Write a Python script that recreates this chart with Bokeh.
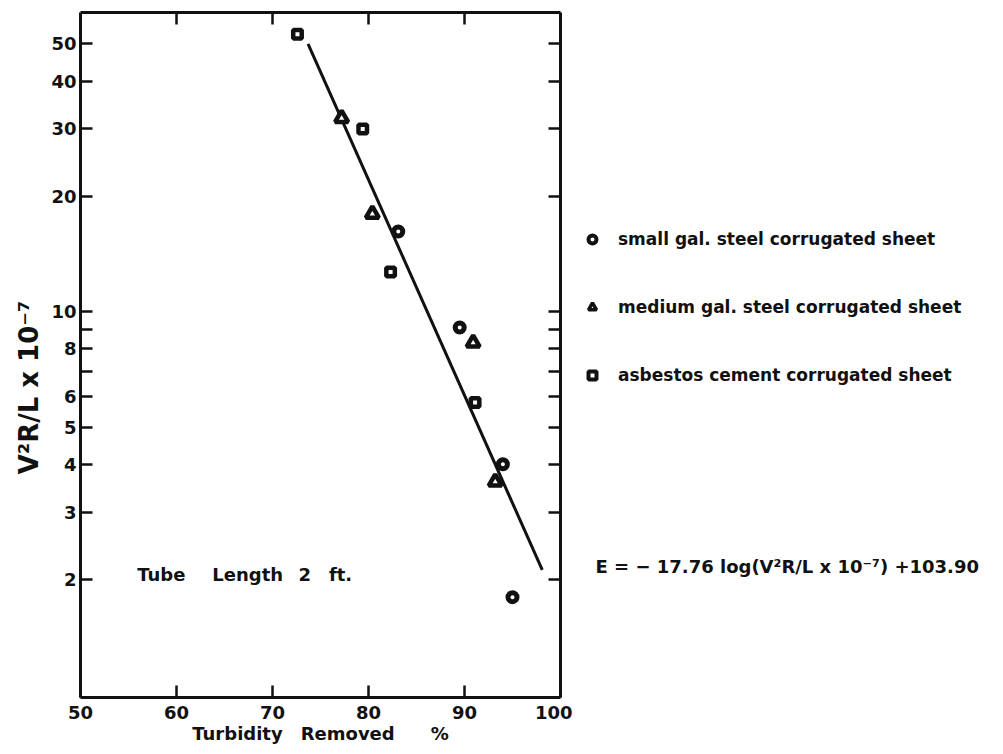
from bokeh.plotting import figure
from bokeh.layouts import row
from bokeh.models import (Range1d, LogAxis, LinearAxis, FixedTicker, Label, Legend, LegendItem,
                          CustomLabelingPolicy)
from bokeh.embed import file_html
from bokeh.resources import INLINE

# ---- data ----
small_x = [83.1, 89.5, 94.0, 95.0]
small_y = [16.2, 9.1, 4.0, 1.8]
medium_x = [77.2, 80.4, 90.9, 93.2]
medium_y = [32.0, 18.0, 8.3, 3.6]
asbestos_x = [72.6, 79.4, 82.3, 91.1]
asbestos_y = [53.0, 30.0, 12.7, 5.8]
fit_x = [73.7, 98.1]
fit_y = [50.0, 2.12]
x_ticks = [50, 60, 70, 80, 90, 100]
y_ticks = [2, 3, 4, 5, 6, 8, 10, 20, 30, 40, 50]
y_minor_ticks = [7, 9]
legend_labels = ["small gal. steel corrugated sheet",
                 "medium gal. steel corrugated sheet",
                 "asbestos cement corrugated sheet"]

FONT = "DejaVu Sans"
INK = "#111111"
EN = "\u2002"
H = 746
FRAME_BOTTOM = 698  # frames of both panels are aligned by the row layout

NO_LABELS = CustomLabelingPolicy(code="""
try {
  const all = Array.from(indices.ones())
  for (const i of all) { indices.unset(i) }
} catch (e) {}
return indices
""")

p = figure(width=572, height=H, output_backend="svg", toolbar_location=None,
           x_range=Range1d(50, 100), y_range=Range1d(0.985, 60.4),
           y_axis_type="log",
           min_border_left=80, min_border_right=12, min_border_top=12, min_border_bottom=48)
p.grid.visible = False
p.outline_line_color = None
p.background_fill_color = "white"
p.border_fill_color = "white"

def style_axis(ax, labels=True):
    ax.axis_line_color = INK
    ax.axis_line_width = 3
    ax.major_tick_line_color = INK
    ax.major_tick_line_width = 2.5
    ax.major_tick_in = 12
    ax.major_tick_out = 0
    ax.minor_tick_line_color = INK
    ax.minor_tick_line_width = 2.5
    ax.minor_tick_in = 12
    ax.minor_tick_out = 0
    ax.major_label_text_font = FONT
    ax.major_label_text_font_style = "bold"
    ax.major_label_text_color = INK
    ax.major_label_text_font_size = "18px"
    if not labels:
        ax.major_label_text_font_size = "0px"
        ax.major_label_standoff = 0
        ax.major_label_policy = NO_LABELS

# bottom axis
xa = p.xaxis[0]
xa.ticker = FixedTicker(ticks=x_ticks, minor_ticks=[])
style_axis(xa)
xa.major_label_standoff = 8
xa.axis_label = "Turbidity" + EN * 2 + "Removed" + EN * 4 + "%"
xa.axis_label_text_font = FONT
xa.axis_label_text_font_style = "bold"
xa.axis_label_text_font_size = "18px"
xa.axis_label_standoff = 1
xa.axis_label_text_color = INK

# left axis
ya = p.yaxis[0]
ya.ticker = FixedTicker(ticks=y_ticks, minor_ticks=y_minor_ticks)
style_axis(ya)
ya.major_label_standoff = 4
ya.axis_label = "V²R/L x 10⁻⁷" + EN * 5
ya.axis_label_text_font = FONT
ya.axis_label_text_font_style = "bold"
ya.axis_label_text_font_size = "26px"
ya.axis_label_standoff = 4
ya.axis_label_text_color = INK

# top and right frame axes with inward ticks, no labels
top = LinearAxis(ticker=FixedTicker(ticks=x_ticks[1:-1], minor_ticks=[]))
style_axis(top, labels=False)
p.add_layout(top, "above")
right = LogAxis(ticker=FixedTicker(ticks=y_ticks, minor_ticks=y_minor_ticks))
style_axis(right, labels=False)
p.add_layout(right, "right")

# fit line
p.line(fit_x, fit_y, line_color=INK, line_width=3)

# data
p.scatter(small_x, small_y, marker="circle", size=9, fill_color="white",
          line_color=INK, line_width=5)
p.scatter(medium_x, medium_y, marker="triangle", size=13, fill_color="white",
          line_color=INK, line_width=4.5)
p.scatter(asbestos_x, asbestos_y, marker="square", size=8.5, fill_color="white",
          line_color=INK, line_width=4.5)

p.add_layout(Label(x=55.9, y=2.065,
                   text="Tube" + EN * 3 + "Length" + EN + " 2" + EN * 2 + "ft.",
                   text_font=FONT, text_font_style="bold", text_font_size="18px",
                   text_color=INK, text_baseline="middle"))

# ---- right-hand key panel ----
side = figure(width=987 - 572, height=H, output_backend="svg", toolbar_location=None,
              x_range=Range1d(0, 1), y_range=Range1d(0, 1),
              x_axis_location=None, y_axis_location=None, min_border=0)
side.grid.visible = False
side.outline_line_color = None
side.background_fill_color = "white"
side.border_fill_color = "white"

# key renderers (data lies outside this panel's ranges, only the legend glyphs show)
k_small = side.scatter(small_x, small_y, marker="circle", size=7, fill_color="white",
                       line_color=INK, line_width=4)
k_med = side.scatter(medium_x, medium_y, marker="triangle", size=11, fill_color="white",
                     line_color=INK, line_width=3.5)
k_asb = side.scatter(asbestos_x, asbestos_y, marker="square", size=7, fill_color="white",
                     line_color=INK, line_width=4)

legend = Legend(items=[LegendItem(label=legend_labels[0], renderers=[k_small]),
                       LegendItem(label=legend_labels[1], renderers=[k_med]),
                       LegendItem(label=legend_labels[2], renderers=[k_asb])],
                location=(10, FRAME_BOTTOM - 386), orientation="vertical",
                glyph_width=20, glyph_height=20, label_height=20, spacing=48,
                label_standoff=16, padding=0, margin=0,
                border_line_color=None, background_fill_alpha=0,
                label_text_font=FONT, label_text_font_style="bold",
                label_text_font_size="17px", label_text_color=INK)
side.add_layout(legend)

side.add_layout(Label(x=23, y=FRAME_BOTTOM - 567, x_units="screen", y_units="screen",
                      text="E = − 17.76 log(V²R/L x 10⁻⁷) +103.90",
                      text_font=FONT, text_font_style="bold", text_font_size="18px",
                      text_color=INK, text_baseline="middle"))

layout = row(p, side, spacing=0)
open("out.html", "w").write(file_html(layout, INLINE))
